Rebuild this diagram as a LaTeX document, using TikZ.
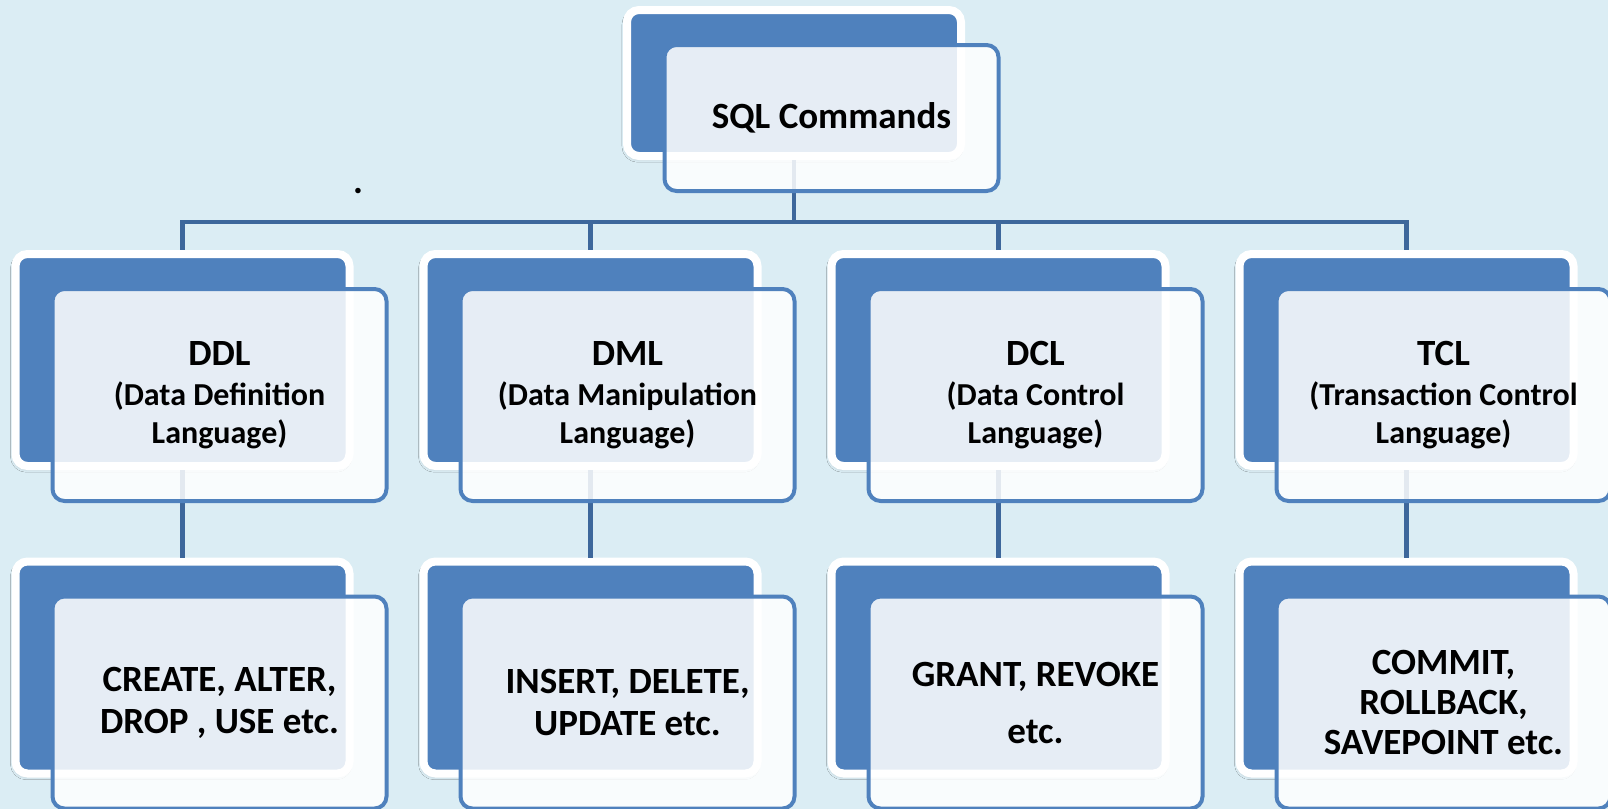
\documentclass[tikz,border=0pt]{standalone}
\usepackage{fontspec}
\setmainfont{Carlito}
\usetikzlibrary{shadows.blur}
\definecolor{bgblue}{RGB}{219,237,244}
\definecolor{boxblue}{RGB}{79,129,189}
\definecolor{linkblue}{RGB}{61,103,155}
\tikzstyle{backbox} = [rectangle, rounded corners=6pt, minimum width=167pt, minimum height=106pt, inner sep=0, draw=white, line width=4pt, fill=boxblue, blur shadow={shadow xshift=-0.6pt, shadow yshift=-1.2pt, shadow blur steps=6, shadow opacity=20}]
\tikzstyle{frontbox} = [rectangle, rounded corners=6pt, minimum width=167pt, minimum height=106pt, inner sep=0, draw=boxblue, line width=2pt, fill=white, fill opacity=0.86, text opacity=1, align=center, font=\bfseries\fontsize{16}{19}\selectfont]
\tikzstyle{cmdbox} = [frontbox, font=\bfseries\fontsize{18.5}{21}\selectfont]
\tikzstyle{link} = [draw=linkblue, line width=2.4pt]
\newcommand{\headtxt}[1]{{\fontsize{18.5}{20}\selectfont #1}}

\begin{document}
\begin{tikzpicture}[x=0.5pt,y=-0.5pt]
\fill[bgblue] (0,0) rectangle (1608,809);
\useasboundingbox (0,0) rectangle (1608,809);
% back boxes
\node[backbox,minimum height=73pt] (sqlback) at (794,83) {};
\node[backbox] (ddlback) at (182.5,360) {};
\node[backbox] (dmlback) at (590.5,360) {};
\node[backbox] (dclback) at (998.5,360) {};
\node[backbox] (tclback) at (1406.5,360) {};
\node[backbox] (ddlcmdback) at (182.5,667.5) {};
\node[backbox] (dmlcmdback) at (590.5,667.5) {};
\node[backbox] (dclcmdback) at (998.5,667.5) {};
\node[backbox] (tclcmdback) at (1406.5,667.5) {};
% connectors
\coordinate (bus) at (794,222);
\draw[link] (sqlback.south) -- (sqlback.south |- bus) -| (ddlback.north);
\draw[link] (sqlback.south) -- (sqlback.south |- bus) -| (dmlback.north);
\draw[link] (sqlback.south) -- (sqlback.south |- bus) -| (dclback.north);
\draw[link] (sqlback.south) -- (sqlback.south |- bus) -| (tclback.north);
\draw[link] (ddlback.south) -- (ddlcmdback.north);
\draw[link] (dmlback.south) -- (dmlcmdback.north);
\draw[link] (dclback.south) -- (dclcmdback.north);
\draw[link] (tclback.south) -- (tclcmdback.north);
% front boxes
\node[frontbox,minimum height=73pt] (sql) at (831.5,118) {\headtxt{SQL Commands}};
\node[frontbox] (ddl) at (219.5,395) {\headtxt{DDL}\\[1pt](Data Definition\\Language)};
\node[frontbox] (dml) at (627.5,395) {\headtxt{DML}\\[1pt](Data Manipulation\\Language)};
\node[frontbox] (dcl) at (1035.5,395) {\headtxt{DCL}\\[1pt](Data Control\\Language)};
\node[frontbox] (tcl) at (1443.5,395) {\headtxt{TCL}\\[1pt](Transaction Control\\Language)};
\node[cmdbox] (ddlcmd) at (219.5,702.5) {CREATE, ALTER,\\DROP , USE etc.};
\node[cmdbox] (dmlcmd) at (627.5,702.5) {INSERT, DELETE,\\UPDATE etc.};
\node[cmdbox] (dclcmd) at (1035.5,702.5) {GRANT, REVOKE\\[7.5pt]etc.};
\node[cmdbox] (tclcmd) at (1443.5,702.5) {COMMIT,\\[-1pt]ROLLBACK,\\[-1pt]SAVEPOINT etc.};
\node[anchor=base, inner sep=0, font=\bfseries\fontsize{18.5}{20}\selectfont] (dot) at (358,193) {.};
\end{tikzpicture}
\end{document}
